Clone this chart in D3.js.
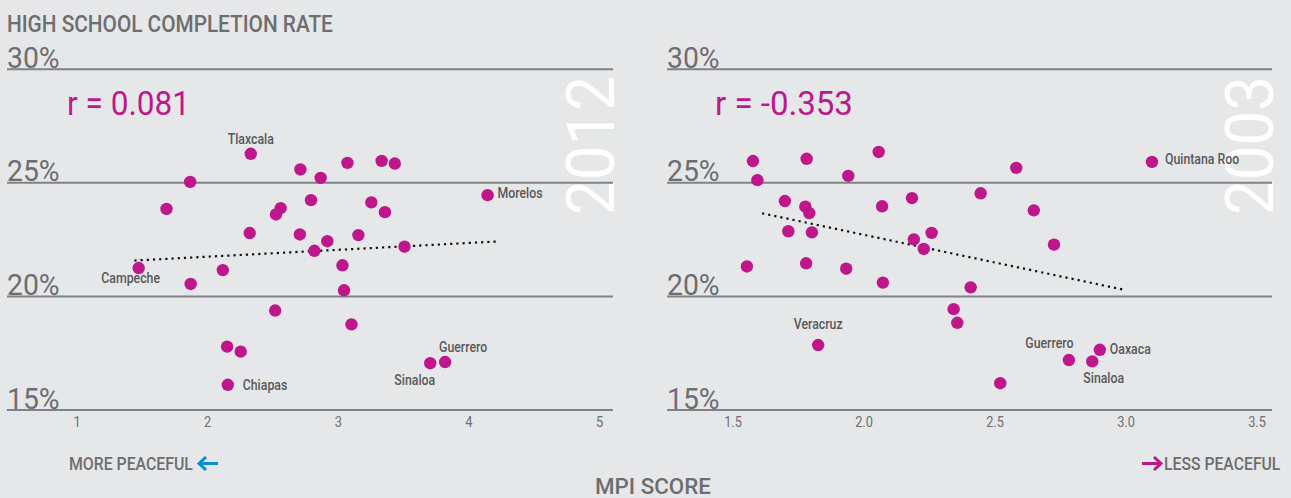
<!DOCTYPE html>
<html>
<head>
<meta charset="utf-8">
<script src="https://cdn.jsdelivr.net/npm/d3@7"></script>
<style>
  html, body { margin: 0; padding: 0; background: #e6e7e8; }
  svg { display: block; }
  text { font-family: Roboto, "Liberation Sans", sans-serif; }
</style>
</head>
<body>
<svg id="chart" width="1291" height="498"></svg>
<script>
// ---------------- DATA ----------------
const yTicks = [15, 20, 25, 30];
const xTicks2012 = [1, 2, 3, 4, 5];
const xTicks2003 = [1.5, 2.0, 2.5, 3.0, 3.5];

const mpi2012 = [2.334, 2.714, 3.074, 3.336, 3.437, 2.869, 1.870, 1.689, 2.563, 2.527, 2.795, 3.257, 3.361, 4.147, 2.326, 2.710,
                 2.920, 3.158, 2.821, 3.511, 3.036, 1.476, 2.120, 1.874, 3.048, 2.521, 3.105, 2.153, 2.257, 3.708, 3.822, 2.158];
const rate2012 = [26.28, 25.59, 25.88, 25.97, 25.85, 25.22, 25.04, 23.85, 23.89, 23.61, 24.24, 24.14, 23.71, 24.46, 22.79, 22.73,
                  22.43, 22.70, 22.01, 22.19, 21.37, 21.25, 21.16, 20.55, 20.27, 19.38, 18.77, 17.79, 17.57, 17.06, 17.11, 16.11];
const names2012 = ["Tlaxcala", "", "", "", "", "", "", "", "", "", "", "", "", "Morelos", "", "",
                   "", "", "", "", "", "Campeche", "", "", "", "", "", "", "", "Sinaloa", "Guerrero", "Chiapas"];
const trendX2012 = [1.443, 4.221];
const trendY2012 = [21.58, 22.42];
const r2012 = "r = 0.081";

const mpi2003 = [1.578, 1.595, 1.783, 1.942, 2.058, 1.700, 1.778, 1.793, 2.071, 2.185, 2.447, 1.713, 1.803, 2.192, 2.260, 2.230,
                 1.555, 1.781, 1.934, 2.074, 2.409, 2.583, 2.650, 2.727, 3.101, 2.344, 2.358, 1.827, 2.522, 2.784, 2.873, 2.902];
const rate2003 = [25.96, 25.12, 26.06, 25.31, 26.36, 24.20, 23.95, 23.67, 23.97, 24.33, 24.54, 22.87, 22.82, 22.51, 22.80, 22.09,
                  21.32, 21.46, 21.22, 20.61, 20.40, 25.66, 23.79, 22.28, 25.92, 19.44, 18.84, 17.86, 16.18, 17.20, 17.14, 17.65];
const names2003 = ["", "", "", "", "", "", "", "", "", "", "", "", "", "", "", "",
                   "", "", "", "", "", "", "", "", "Quintana Roo", "", "", "Veracruz", "", "Guerrero", "Sinaloa", "Oaxaca"];
const trendX2003 = [1.613, 3.0];
const trendY2003 = [23.66, 20.28];
const r2003 = "r = -0.353";

// ---------------- LAYOUT / STYLE ----------------
const MAGENTA = "#c0168b";
const BLUE = "#0a8bd6";
const GRAY = "#6d6e71";
const DARK = "#58595b";
const GRID = "#808285";

const labelPos2012 = {
  "Tlaxcala": [0, -10, "middle"], "Morelos": [10, 3, "start"], "Campeche": [-8, 15, "middle"],
  "Chiapas": [15, 5, "start"], "Guerrero": [18, -10, "middle"], "Sinaloa": [-15.5, 22, "middle"]
};
const labelPos2003 = {
  "Quintana Roo": [13, 2.5, "start"], "Veracruz": [0, -16, "middle"], "Guerrero": [-19.5, -12, "middle"],
  "Oaxaca": [10, 4.5, "start"], "Sinaloa": [11.5, 22, "middle"]
};

// squeeze text horizontally to mimic the condensed face of the original
function condense(sel, f) {
  sel.each(function () {
    const w = this.getComputedTextLength();
    this.setAttribute("textLength", (w * f).toFixed(1));
    this.setAttribute("lengthAdjust", "spacingAndGlyphs");
  });
}
function fit(sel, w) {
  sel.attr("textLength", w).attr("lengthAdjust", "spacingAndGlyphs");
}
// place text at (x, y) and scale it horizontally so that it spans width w
function placeText(parent, x, y, w, str, attrs) {
  const t = parent.append("text").attr("x", 0).attr("y", 0);
  Object.entries(attrs).forEach(([k, v]) => t.attr(k, v));
  t.text(str);
  const nat = t.node().getComputedTextLength();
  t.attr("transform", `translate(${x},${y}) scale(${(w / nat).toFixed(4)},1)`);
  return t;
}

const svg = d3.select("#chart");
const y = d3.scaleLinear().domain([15, 30]).range([410, 69.3]);

function panel(opts) {
  const g = svg.append("g");
  const x = d3.scaleLinear().domain(opts.xDomain).range(opts.xRange);

  // year label (white, rotated)
  g.append("text")
    .attr("transform", `translate(${opts.gridRight + 1},${215}) rotate(-90)`)
    .attr("fill", "#ffffff")
    .attr("font-size", 66)
    .attr("font-weight", 400)
    .call(fit, 139)
    .text(opts.year);

  // gridlines
  g.selectAll("line.grid").data(yTicks).join("line")
    .attr("class", "grid")
    .attr("x1", opts.gridLeft).attr("x2", opts.gridRight)
    .attr("y1", d => y(d)).attr("y2", d => y(d))
    .attr("stroke", GRID).attr("stroke-width", 2);

  // y labels
  g.selectAll("text.ylab").data(yTicks).join("text")
    .attr("class", "ylab")
    .attr("x", opts.gridLeft)
    .attr("y", d => y(d) - 1.5)
    .attr("fill", GRAY)
    .attr("font-size", 29.5)
    .text(d => d + "%")
    .call(condense, 0.96);

  // x axis
  const ax = g.append("g")
    .attr("transform", "translate(0,411)")
    .call(d3.axisBottom(x).tickValues(opts.xTicks).tickSize(0).tickPadding(5).tickFormat(opts.fmt));
  ax.select(".domain").remove();
  ax.selectAll("text")
    .attr("fill", GRAY)
    .attr("font-size", 15)
    .attr("font-family", "Roboto, sans-serif")
    .call(condense, 0.85);

  // r value
  placeText(g, opts.rX, 115, opts.rW, opts.r, { "fill": MAGENTA, "font-size": 34 });

  // trend line
  const line = d3.line().x(d => x(d[0])).y(d => y(d[1]));
  g.append("path")
    .datum(d3.zip(opts.trendX, opts.trendY))
    .attr("d", line)
    .attr("fill", "none")
    .attr("stroke", "#111")
    .attr("stroke-width", 2.2)
    .attr("stroke-dasharray", "2.2,4");

  // points
  const pts = d3.range(opts.xs.length).map(i => ({ x: opts.xs[i], y: opts.ys[i], name: opts.names[i] }));
  g.selectAll("circle").data(pts).join("circle")
    .attr("cx", d => x(d.x)).attr("cy", d => y(d.y))
    .attr("r", 6.2)
    .attr("fill", MAGENTA);

  // labels
  g.selectAll("text.plab").data(pts.filter(d => d.name)).join("text")
    .attr("class", "plab")
    .attr("x", d => x(d.x) + opts.labelPos[d.name][0])
    .attr("y", d => y(d.y) + opts.labelPos[d.name][1])
    .attr("text-anchor", d => opts.labelPos[d.name][2])
    .attr("fill", DARK)
    .attr("font-size", 15)
    .attr("font-weight", 500)
    .text(d => d.name)
    .call(condense, 0.82);
}

panel({
  year: "2012", xDomain: [1, 5], xRange: [76.5, 599], gridLeft: 7, gridRight: 613,
  xTicks: xTicks2012, fmt: d3.format("d"), rX: 67, r: r2012, rW: 123,
  trendX: trendX2012, trendY: trendY2012,
  xs: mpi2012, ys: rate2012, names: names2012, labelPos: labelPos2012
});
panel({
  year: "2003", xDomain: [1.5, 3.5], xRange: [732.5, 1256.5], gridLeft: 667, gridRight: 1272,
  xTicks: xTicks2003, fmt: d3.format(".1f"), rX: 715, r: r2003, rW: 138,
  trendX: trendX2003, trendY: trendY2003,
  xs: mpi2003, ys: rate2003, names: names2003, labelPos: labelPos2003
});

// titles
const labelStyle = (size) => ({ "fill": GRAY, "font-size": size, "font-weight": 500 });
placeText(svg, 7, 32, 326, "HIGH SCHOOL COMPLETION RATE", labelStyle(24));

// direction hints with drawn arrows
function arrow(x0, x1, yc, color) {
  const dir = Math.sign(x1 - x0);
  const p = d3.path();
  p.moveTo(x0, yc); p.lineTo(x1 - dir * 1.5, yc);
  p.moveTo(x1 - dir * 7, yc - 6.5); p.lineTo(x1, yc); p.lineTo(x1 - dir * 7, yc + 6.5);
  svg.append("path").attr("d", p.toString())
    .attr("fill", "none").attr("stroke", color).attr("stroke-width", 3)
    .attr("stroke-linejoin", "miter").attr("stroke-linecap", "butt");
}

placeText(svg, 69, 470, 124, "MORE PEACEFUL", labelStyle(18));
arrow(218, 199, 463.5, BLUE);

placeText(svg, 1164, 470, 116.5, "LESS PEACEFUL", labelStyle(18));
arrow(1142, 1161, 463.5, MAGENTA);

placeText(svg, 595, 494, 116, "MPI SCORE", labelStyle(22));
</script>
</body>
</html>
